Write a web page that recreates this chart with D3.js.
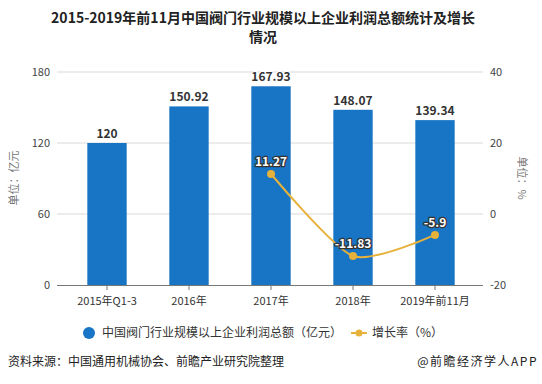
<!DOCTYPE html>
<html>
<head>
<meta charset="utf-8">
<script src="https://cdn.jsdelivr.net/npm/d3@7"></script>
<style>
  body { margin: 0; background: #fff; }
  svg { display: block; font-family: "Microsoft YaHei", "Noto Sans CJK SC", sans-serif; }
</style>
</head>
<body>
<svg id="svg"></svg>
<script>
// data
const categories = ["2015年Q1-3", "2016年", "2017年", "2018年", "2019年前11月"];
const profitValues = [120, 150.92, 167.93, 148.07, 139.34];
const growthValues = [null, null, 11.27, -11.83, -5.9];
const leftTicks = [0, 60, 120, 180];
const rightTicks = [-20, 0, 20, 40];
const titleLines = ["2015-2019年前11月中国阀门行业规模以上企业利润总额统计及增长", "情况"];

const width = 542;
const height = 384;
const barColour = "#1874c4";
const lineColour = "#e6b23c";

let svg = d3.select("#svg").attr("width", width).attr("height", height);

// title, wrapped on two lines
svg.append("text")
    .attr("y", 23)
    .attr("text-anchor", "middle")
    .style("font-size", "14px").style("font-weight", "bold").style("fill", "#222")
    .selectAll("tspan")
    .data(titleLines)
    .join("tspan")
    .attr("x", 263)
    .attr("dy", (d, i) => i === 0 ? 0 : 19)
    .text(d => d);

// scales
const xScale = d3.scaleBand()
    .domain(categories)
    .range([66, 476])
    .paddingInner(0.52)
    .paddingOuter(0.26);

const yLeft = d3.scaleLinear().domain([0, 180]).range([285, 72]);
const yRight = d3.scaleLinear().domain([-20, 40]).range([285, 72]);

// gridlines
svg.append("g").selectAll("line")
    .data(leftTicks.filter(d => d > 0))
    .join("line")
    .attr("x1", 57).attr("x2", 483)
    .attr("y1", d => yLeft(d)).attr("y2", d => yLeft(d))
    .attr("stroke", "#d9d9d9").attr("stroke-width", 1);

// left axis labels
svg.append("g").selectAll("text")
    .data(leftTicks)
    .join("text")
    .attr("x", 50).attr("y", d => yLeft(d) + 4)
    .attr("text-anchor", "end")
    .style("font-size", "11px").style("fill", "#444")
    .text(d => d);

// right axis labels
svg.append("g").selectAll("text")
    .data(rightTicks)
    .join("text")
    .attr("x", 490).attr("y", d => yRight(d) + 4)
    .attr("text-anchor", "start")
    .style("font-size", "11px").style("fill", "#444")
    .text(d => d);

// axis titles
svg.append("text")
    .attr("transform", "translate(18,178) rotate(-90)")
    .attr("text-anchor", "middle")
    .style("font-size", "11px").style("fill", "#777")
    .text("单位：亿元");
svg.append("text")
    .attr("transform", "translate(518,178) rotate(90)")
    .attr("text-anchor", "middle")
    .style("font-size", "11px").style("fill", "#777")
    .text("单位：%");

// bars
const bars = profitValues.map((v, i) => ({ cat: categories[i], v: v }));
svg.append("g").selectAll("rect")
    .data(bars)
    .join("rect")
    .attr("x", d => xScale(d.cat))
    .attr("y", d => yLeft(d.v))
    .attr("width", xScale.bandwidth())
    .attr("height", d => yLeft(0) - yLeft(d.v))
    .attr("fill", barColour);

// x axis
const xAxis = svg.append("g")
    .attr("transform", "translate(0,285)")
    .call(d3.axisBottom(xScale).tickSize(5).tickSizeOuter(0));
xAxis.select(".domain").attr("d", "M57,0.5H483").attr("stroke", "#777");
xAxis.selectAll(".tick line").attr("stroke", "#777");
xAxis.selectAll(".tick text")
    .attr("dy", "1.1em")
    .style("font-size", "11px").style("fill", "#333")
    .style("font-family", "\"Microsoft YaHei\", \"Noto Sans CJK SC\", sans-serif");

// bar labels
svg.append("g").selectAll("text")
    .data(bars)
    .join("text")
    .attr("x", d => xScale(d.cat) + xScale.bandwidth() / 2)
    .attr("y", d => yLeft(d.v) - 5)
    .attr("text-anchor", "middle")
    .style("font-size", "12px").style("font-weight", "bold").style("fill", "#333")
    .attr("paint-order", "stroke").attr("stroke", "#fff").attr("stroke-width", 2)
    .text(d => d.v);

// growth line
const points = growthValues
    .map((v, i) => ({ cat: categories[i], v: v }))
    .filter(d => d.v !== null);

const line = d3.line()
    .x(d => xScale(d.cat) + xScale.bandwidth() / 2)
    .y(d => yRight(d.v))
    .curve(d3.curveCardinal.tension(0.3));

svg.append("path")
    .datum(points)
    .attr("d", line)
    .attr("fill", "none")
    .attr("stroke", lineColour)
    .attr("stroke-width", 2);

svg.append("g").selectAll("circle")
    .data(points)
    .join("circle")
    .attr("cx", d => xScale(d.cat) + xScale.bandwidth() / 2)
    .attr("cy", d => yRight(d.v))
    .attr("r", 4)
    .attr("fill", lineColour);

svg.append("g").selectAll("text")
    .data(points)
    .join("text")
    .attr("x", d => xScale(d.cat) + xScale.bandwidth() / 2)
    .attr("y", d => yRight(d.v) - 8)
    .attr("text-anchor", "middle")
    .style("font-size", "12px").style("font-weight", "bold").style("fill", "#fff")
    .attr("paint-order", "stroke").attr("stroke", "#333").attr("stroke-width", 2.5)
    .attr("stroke-linejoin", "round")
    .text(d => d.v);

// legend
svg.append("circle").attr("cx", 89).attr("cy", 333).attr("r", 6).attr("fill", barColour);
svg.append("text")
    .attr("x", 102).attr("y", 337)
    .style("font-size", "12px").style("fill", "#333")
    .text("中国阀门行业规模以上企业利润总额（亿元）");
svg.append("line")
    .attr("x1", 351).attr("x2", 367).attr("y1", 333).attr("y2", 333)
    .attr("stroke", lineColour).attr("stroke-width", 2);
svg.append("circle").attr("cx", 359).attr("cy", 333).attr("r", 3.5).attr("fill", lineColour);
svg.append("text")
    .attr("x", 372).attr("y", 337)
    .style("font-size", "12px").style("fill", "#333")
    .text("增长率（%）");

// footer
svg.append("text")
    .attr("x", 8).attr("y", 366)
    .style("font-size", "12px").style("fill", "#222")
    .text("资料来源：中国通用机械协会、前瞻产业研究院整理");
svg.append("text")
    .attr("x", 538).attr("y", 366)
    .attr("text-anchor", "end")
    .style("font-size", "12px").style("fill", "#222")
    .style("letter-spacing", "1.5px")
    .text("@前瞻经济学人APP");
</script>
</body>
</html>
